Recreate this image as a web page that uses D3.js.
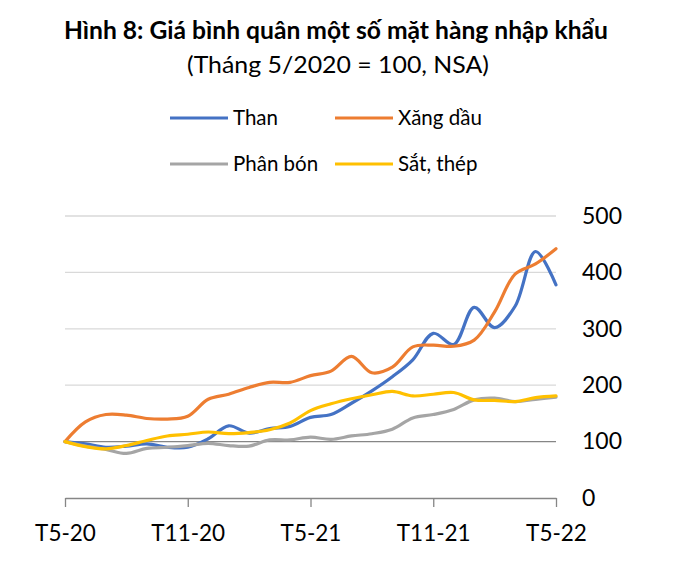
<!DOCTYPE html>
<html>
<head>
<meta charset="utf-8">
<script src="https://cdn.jsdelivr.net/npm/d3@7"></script>
<style>
  body { margin: 0; background: #fff; }
  text { font-family: Lato, "Open Sans", sans-serif; fill: #000; }
</style>
</head>
<body>
<div class="plot"></div>
<script>
/* data, monthly T5-20 .. T5-22 */
const months = d3.range(25);
const xTickLabels = ["T5-20", "T11-20", "T5-21", "T11-21", "T5-22"];
const yTicks = [0, 100, 200, 300, 400, 500];

const than = [100, 96, 90, 92, 96, 90, 90, 105, 128, 115, 123, 127, 143, 148, 168, 190, 215, 245, 292, 272, 338, 302, 340, 437, 378];
const xangDau = [100, 135, 148, 147, 141, 140, 145, 175, 184, 196, 205, 205, 217, 225, 251, 222, 232, 268, 271, 269, 280, 330, 397, 415, 442];
const phanBon = [100, 92, 86, 79, 88, 90, 93, 97, 93, 92, 103, 103, 108, 104, 110, 114, 122, 142, 148, 157, 174, 177, 171, 175, 179];
const satThep = [100, 91, 87, 93, 102, 110, 113, 117, 114, 116, 121, 133, 155, 167, 176, 183, 189, 181, 184, 187, 174, 173, 171, 178, 181];

const series = [
  {name: "Than", values: than, color: "#4472C4"},
  {name: "Xăng dầu", values: xangDau, color: "#ED7D31"},
  {name: "Phân bón", values: phanBon, color: "#A5A5A5"},
  {name: "Sắt, thép", values: satThep, color: "#FFC000"}
];

const W = 679, H = 561;
const svg = d3.select(".plot").append("svg")
  .attr("width", W)
  .attr("height", H);

/* titles */
svg.append("text")
  .attr("x", 336).attr("y", 39)
  .attr("text-anchor", "middle")
  .attr("font-size", 24).attr("font-weight", "bold")
  .attr("textLength", 544).attr("lengthAdjust", "spacingAndGlyphs")
  .text("Hình 8: Giá bình quân một số mặt hàng nhập khẩu");
svg.append("text")
  .attr("x", 338).attr("y", 73)
  .attr("text-anchor", "middle")
  .attr("font-size", 24)
  .attr("textLength", 302).attr("lengthAdjust", "spacingAndGlyphs")
  .text("(Tháng 5/2020 = 100, NSA)");

/* legend, 2 x 2 */
const legend = svg.append("g");
series.forEach((s, i) => {
  const lx = i % 2 === 0 ? 170 : 335;
  const ly = i < 2 ? 118 : 164;
  legend.append("line")
    .attr("x1", lx).attr("x2", lx + 58)
    .attr("y1", ly).attr("y2", ly)
    .attr("stroke", s.color).attr("stroke-width", 3);
  legend.append("text")
    .attr("x", lx + 63).attr("y", ly)
    .attr("dy", "0.35em")
    .attr("font-size", 20.5)
    .text(s.name);
});

/* scales */
const xScale = d3.scaleLinear().domain([0, 24]).range([65, 556]);
const yScale = d3.scaleLinear().domain([0, 500]).range([498, 216]);

/* grid lines */
svg.append("g")
  .selectAll("line")
  .data(yTicks.filter(d => d > 100))
  .join("line")
    .attr("x1", xScale(0)).attr("x2", xScale(24))
    .attr("y1", d => yScale(d)).attr("y2", d => yScale(d))
    .attr("stroke", "#d9d9d9").attr("stroke-width", 1.3);

/* the 100 base line is darker */
svg.append("line")
  .attr("x1", xScale(0)).attr("x2", xScale(24))
  .attr("y1", yScale(100)).attr("y2", yScale(100))
  .attr("stroke", "#868686").attr("stroke-width", 1.3);

/* y labels on the right */
const yAxis = d3.axisRight(yScale)
  .tickValues(yTicks)
  .tickSize(0)
  .tickPadding(0);
svg.append("g")
  .attr("transform", "translate(582,0)")
  .call(yAxis)
  .call(g => g.select(".domain").remove())
  .call(g => g.selectAll("text")
    .attr("font-size", 23)
    .attr("font-family", "Lato, sans-serif")
    .attr("fill", "#000"));

/* x axis at 0 */
const xAxis = d3.axisBottom(xScale)
  .tickValues([0, 6, 12, 18, 24])
  .tickFormat((d, i) => xTickLabels[i])
  .tickSizeInner(9)
  .tickSizeOuter(0)
  .tickPadding(18);
svg.append("g")
  .attr("transform", `translate(0,${yScale(0)})`)
  .call(xAxis)
  .call(g => g.select(".domain").attr("stroke", "#868686").attr("stroke-width", 1.3))
  .call(g => g.selectAll(".tick line").attr("stroke", "#868686").attr("stroke-width", 1.3))
  .call(g => g.selectAll("text")
    .attr("font-size", 22.5)
    .attr("font-family", "Lato, sans-serif")
    .attr("fill", "#000"));

/* lines */
const line = d3.line()
  .x((d, i) => xScale(months[i]))
  .y(d => yScale(d))
  .curve(d3.curveCatmullRom.alpha(0.5));

svg.selectAll(".series")
  .data(series)
  .join("path")
    .attr("class", "series")
    .attr("d", d => line(d.values))
    .attr("fill", "none")
    .attr("stroke", d => d.color)
    .attr("stroke-width", 3.2)
    .attr("stroke-linejoin", "round")
    .attr("stroke-linecap", "round");
</script>
</body>
</html>
